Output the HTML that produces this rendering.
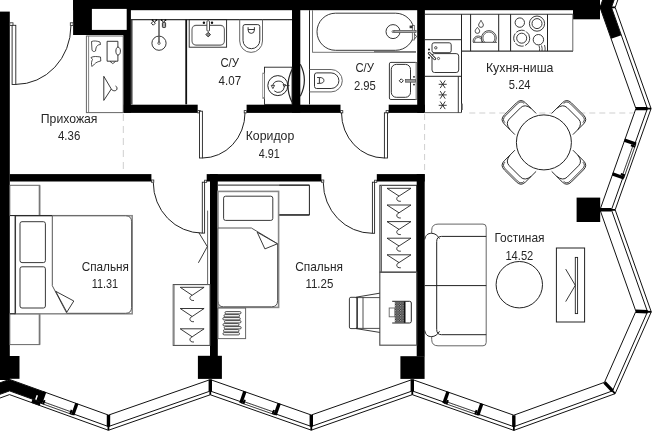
<!DOCTYPE html>
<html><head><meta charset="utf-8"><style>
html,body{margin:0;padding:0;background:#fff;width:652px;height:431px;overflow:hidden}
svg{display:block}
.tx{will-change:transform}
text{font-family:"Liberation Sans",sans-serif;font-size:12.6px;fill:#262626}
</style></head><body>
<svg width="652" height="431" viewBox="0 0 652 431">
<polygon points="-89.5,415.1 9.5,379.4 9.5,390.88 -85.84,425.26" fill="#000" />
<polygon points="9.5,379.4 44.6,392.06 40.94,402.22 5.84,389.56" fill="#000" />
<polygon points="32.64,398.69 41.11,401.75 39.65,405.79 31.18,402.74" fill="#000" />
<polygon points="36.62,395.03 38.03,395.54 36.44,399.96 35.03,399.45" fill="#fff" />
<polygon points="611.14,38.8 600,7.4 610.18,3.79 621.32,35.19" fill="#000" />
<polygon points="600,7.4 635.9,-93.8 646.08,-90.19 611.46,7.4" fill="#000" />
<polyline points="-89.5,415.1 9.5,379.4 108.5,415.1 210.3,379.6 311.3,415 412.3,379.5 513.8,415.2 604.5,382.3 635.9,311.3 600,209.8 635.9,108.6 600,7.4 635.9,-93.8" fill="none" stroke="#111" stroke-width="1" />
<polyline points="-85.84,425.26 9.5,390.88 108.44,426.56 210.29,391.04 311.31,426.45 412.3,390.95 513.86,426.67 612.51,390.88 647.51,311.74 611.46,209.81 647.36,108.6 611.46,7.4 646.08,-90.19" fill="none" stroke="#111" stroke-width="1" />
<polyline points="-84.65,428.55 9.5,394.6 108.42,430.27 210.29,394.75 311.31,430.16 412.3,394.66 513.87,430.38 615.11,393.66 651.28,311.89 615.17,209.81 651.07,108.6 615.17,7.4 649.38,-89.02" fill="none" stroke="#111" stroke-width="1" />
<polygon points="106.8,415.09 106.74,426.55 107.54,426.55 107.52,430.27 109.32,430.28 109.34,426.56 110.14,426.57 110.2,415.11" fill="#000" />
<polygon points="208.6,379.6 208.59,391.04 209.39,391.04 209.39,394.75 211.19,394.75 211.19,391.04 211.99,391.04 212,379.6" fill="#000" />
<polygon points="309.6,415 309.61,426.45 310.41,426.45 310.41,430.16 312.21,430.15 312.21,426.45 313.01,426.45 313,415" fill="#000" />
<polygon points="410.6,379.5 410.6,390.95 411.4,390.95 411.4,394.66 413.2,394.66 413.2,390.95 414,390.95 414,379.5" fill="#000" />
<polygon points="512.1,415.21 512.16,426.68 512.96,426.67 512.97,430.39 514.77,430.38 514.76,426.66 515.56,426.66 515.5,415.19" fill="#000" />
<polygon points="603.26,383.46 611.27,392.04 611.86,391.5 614.45,394.28 615.77,393.05 613.17,390.27 613.76,389.72 605.74,381.14" fill="#000" />
<polygon points="635.84,313 647.45,313.44 647.48,312.64 651.24,312.79 651.31,310.99 647.55,310.84 647.58,310.05 635.96,309.6" fill="#000" />
<polygon points="600,211.5 611.46,211.51 611.46,210.71 615.17,210.71 615.17,208.91 611.46,208.91 611.46,208.11 600,208.1" fill="#000" />
<polygon points="635.9,110.3 647.36,110.3 647.36,109.5 651.07,109.5 651.07,107.7 647.36,107.7 647.36,106.9 635.9,106.9" fill="#000" />
<polygon points="600,9.1 611.46,9.1 611.46,8.3 615.17,8.3 615.17,6.5 611.46,6.5 611.46,5.7 600,5.7" fill="#000" />
<line x1="40.94" y1="402.22" x2="73.14" y2="413.83" stroke="#fff" stroke-width="1.6" />
<line x1="41.34" y1="401.09" x2="73.54" y2="412.7" stroke="#111" stroke-width="0.8" />
<line x1="40.6" y1="403.16" x2="72.8" y2="414.77" stroke="#111" stroke-width="0.8" />
<polygon points="43.1,391.2 46.3,392.35 42.13,403.92 38.93,402.77" fill="#000" />
<polygon points="43.62,399.78 45.5,400.46 44.01,404.6 42.13,403.92" fill="#000" />
<polygon points="75.3,402.81 78.5,403.96 74.33,415.53 71.13,414.38" fill="#000" />
<polygon points="72.62,410.24 70.74,409.56 69.25,413.7 71.13,414.38" fill="#000" />
<line x1="241.23" y1="401.88" x2="275.53" y2="413.91" stroke="#fff" stroke-width="1.6" />
<line x1="241.62" y1="400.75" x2="275.92" y2="412.77" stroke="#111" stroke-width="0.8" />
<line x1="240.9" y1="402.83" x2="275.2" y2="414.85" stroke="#111" stroke-width="0.8" />
<polygon points="243.29,390.85 246.5,391.97 242.44,403.58 239.23,402.45" fill="#000" />
<polygon points="243.89,399.43 245.78,400.09 244.32,404.24 242.44,403.58" fill="#000" />
<polygon points="277.59,402.87 280.8,403.99 276.74,415.6 273.53,414.48" fill="#000" />
<polygon points="274.98,410.32 273.09,409.66 271.64,413.81 273.53,414.48" fill="#000" />
<line x1="444.32" y1="402.21" x2="478.12" y2="414.1" stroke="#fff" stroke-width="1.6" />
<line x1="444.71" y1="401.08" x2="478.51" y2="412.97" stroke="#111" stroke-width="0.8" />
<line x1="443.98" y1="403.15" x2="477.78" y2="415.04" stroke="#111" stroke-width="0.8" />
<polygon points="446.4,391.17 449.6,392.3 445.52,403.91 442.31,402.78" fill="#000" />
<polygon points="446.98,399.75 448.87,400.42 447.41,404.57 445.52,403.91" fill="#000" />
<polygon points="480.2,403.06 483.4,404.19 479.32,415.79 476.11,414.67" fill="#000" />
<polygon points="477.57,410.52 475.69,409.85 474.23,414 476.11,414.67" fill="#000" />
<line x1="622.88" y1="177.61" x2="634.87" y2="143.81" stroke="#fff" stroke-width="1.6" />
<line x1="621.75" y1="177.21" x2="633.74" y2="143.41" stroke="#111" stroke-width="0.8" />
<line x1="623.82" y1="177.95" x2="635.81" y2="144.15" stroke="#111" stroke-width="0.8" />
<polygon points="611.85,175.5 612.99,172.3 624.58,176.41 623.44,179.61" fill="#000" />
<polygon points="620.43,174.94 621.1,173.05 625.25,174.52 624.58,176.41" fill="#000" />
<polygon points="623.84,141.7 624.98,138.5 636.57,142.61 635.43,145.81" fill="#000" />
<polygon points="631.28,144.34 630.62,146.23 634.76,147.7 635.43,145.81" fill="#000" />
<rect x="0" y="11.6" width="9.8" height="368.4" fill="#000" />
<rect x="0" y="356" width="19.5" height="22.8" fill="#000" />
<rect x="73.1" y="0" width="526.9" height="10.2" fill="#000" />
<rect x="73.1" y="0" width="57.8" height="35" fill="#000" />
<rect x="91.9" y="8.9" width="34.8" height="21" fill="#fff" />
<rect x="123.2" y="35" width="7.7" height="77.7" fill="#000" />
<rect x="123.2" y="104.7" width="74.5" height="8.2" fill="#000" />
<rect x="246.6" y="104.7" width="93.9" height="8.2" fill="#000" />
<rect x="388.7" y="104.7" width="36.2" height="8.2" fill="#000" />
<rect x="292" y="0" width="8.3" height="112.7" fill="#000" />
<rect x="417.2" y="0" width="7.7" height="112.9" fill="#000" />
<rect x="573" y="0" width="27" height="19.3" fill="#000" />
<rect x="9.8" y="174.1" width="141.6" height="7.4" fill="#000" />
<rect x="206.7" y="174.1" width="114.7" height="7.4" fill="#000" />
<rect x="376.8" y="174.1" width="47.9" height="7.4" fill="#000" />
<rect x="210" y="174.1" width="7.8" height="181.9" fill="#000" />
<rect x="197.9" y="355.8" width="24" height="23.1" fill="#000" />
<rect x="416.7" y="174.1" width="8" height="182.4" fill="#000" />
<rect x="400.4" y="356.2" width="24.2" height="22.7" fill="#000" />
<rect x="576.6" y="197.6" width="23.6" height="24.4" fill="#000" />
<rect x="9.8" y="22.8" width="3.2" height="2.6" fill="#fff" stroke="#222" stroke-width="0.8"/>
<rect x="70.3" y="22.8" width="2.8" height="2.6" fill="#fff" stroke="#222" stroke-width="0.8"/>
<rect x="12.1" y="25.3" width="3.7" height="59.2" fill="#fff" stroke="#222" stroke-width="0.9"/>
<path d="M 70.9 26 A 55.1 58.4 0 0 1 15.8 84.4" stroke="#222" stroke-width="1" fill="none" />
<rect x="197.7" y="110.6" width="2.6" height="2.3" fill="#fff" stroke="#222" stroke-width="0.8"/>
<rect x="244.2" y="110.6" width="2.4" height="2.3" fill="#fff" stroke="#222" stroke-width="0.8"/>
<rect x="199.5" y="111.2" width="2.9" height="46.8" fill="#fff" stroke="#222" stroke-width="0.9"/>
<path d="M 245 112.8 A 42.6 45.2 0 0 1 202.4 158" stroke="#222" stroke-width="1" fill="none" />
<rect x="340.5" y="110.6" width="2.3" height="2.3" fill="#fff" stroke="#222" stroke-width="0.8"/>
<rect x="386.1" y="110.6" width="2.6" height="2.3" fill="#fff" stroke="#222" stroke-width="0.8"/>
<rect x="384.4" y="112.8" width="3.1" height="45.2" fill="#fff" stroke="#222" stroke-width="0.9"/>
<path d="M 341.5 112.8 A 42.9 45.2 0 0 0 384.4 158" stroke="#222" stroke-width="1" fill="none" />
<rect x="151.4" y="180" width="2.4" height="2.2" fill="#fff" stroke="#222" stroke-width="0.8"/>
<rect x="204.6" y="180.2" width="2.1" height="2.1" fill="#fff" stroke="#222" stroke-width="0.8"/>
<rect x="202.3" y="182.2" width="2.3" height="50.9" fill="#fff" stroke="#222" stroke-width="0.9"/>
<path d="M 153.3 182.5 A 49 50.6 0 0 0 202.3 233.1" stroke="#222" stroke-width="1" fill="none" />
<rect x="321.4" y="180" width="2.4" height="2.2" fill="#fff" stroke="#222" stroke-width="0.8"/>
<rect x="374.6" y="180.2" width="2.2" height="2.1" fill="#fff" stroke="#222" stroke-width="0.8"/>
<rect x="372.4" y="182.2" width="2.2" height="51.1" fill="#fff" stroke="#222" stroke-width="0.9"/>
<path d="M 323.3 182.5 A 49.1 50.8 0 0 0 372.4 233.3" stroke="#222" stroke-width="1" fill="none" />
<line x1="123.3" y1="114" x2="123.3" y2="174" stroke="#cfcfcf" stroke-width="1" stroke-dasharray="7 5"/>
<line x1="424.6" y1="114" x2="424.6" y2="174" stroke="#cfcfcf" stroke-width="1" stroke-dasharray="6 4"/>
<line x1="469.3" y1="113" x2="634" y2="113" stroke="#cfcfcf" stroke-width="1" stroke-dasharray="6 4"/>
<rect x="86.4" y="36" width="36.8" height="76.6" fill="none" stroke="#666" stroke-width="1"/>
<line x1="88.6" y1="36" x2="88.6" y2="112.6" stroke="#666" stroke-width="0.8" />
<path d="M 91.5 41.5 C 94 40.5 97 41 100 42 L 100.5 44.5 C 98 44.5 96.5 46 96 48 L 95.5 51 C 94 52 92.5 51.5 92 50 Z" stroke="#222" stroke-width="0.8" fill="none" />
<path d="M 91 57.5 C 93.5 56 97 56.5 100.5 57 L 100.8 61 C 98 61.5 96 62.5 94.5 64 L 92 66.5 C 91 64 91.5 61 92.5 59.5 Z" stroke="#222" stroke-width="0.8" fill="none" />
<path d="M 117.9 47 V 41.3 H 107.1 V 61.2 H 117.9 V 55.2" stroke="#222" stroke-width="0.9" fill="none" />
<path d="M 117.9 47 C 121.3 47.5 121.3 54.7 117.9 55.2 C 115.2 54.5 115.2 47.7 117.9 47" stroke="#222" stroke-width="0.9" fill="none" />
<path d="M 110 61.4 L 112.8 63.6 L 115.6 61.4" stroke="#222" stroke-width="0.8" fill="none" />
<polyline points="111.3,89 103.8,76.3 103.8,100.4 111.3,89" fill="none" stroke="#222" stroke-width="0.9" />
<path d="M 111.3 89 C 112.5 91.5 117.5 91.5 117 88 C 116.8 86.8 116 86 115.5 86" stroke="#222" stroke-width="0.9" fill="none" />
<line x1="131" y1="19.6" x2="292" y2="19.6" stroke="#333" stroke-width="1.3" />
<line x1="131.8" y1="19.6" x2="131.8" y2="104.4" stroke="#333" stroke-width="1.4" />
<line x1="186.2" y1="19.6" x2="186.2" y2="104.4" stroke="#111" stroke-width="1.8" />
<circle cx="159" cy="43.2" r="7.1" fill="none" stroke="#222" stroke-width="0.9"/>
<line x1="159" y1="20" x2="159" y2="43" stroke="#555" stroke-width="1.5" />
<circle cx="159" cy="43.2" r="1.2" fill="#fff" stroke="#222" stroke-width="0.7"/>
<path d="M 152.5 19.9 L 154.5 22.6 L 156.4 19.9 M 161.6 19.9 L 163.5 22.6 L 165.5 19.9" stroke="#333" stroke-width="1" fill="none" />
<circle cx="152.5" cy="20" r="0.9" fill="#111"/><circle cx="156.4" cy="20" r="0.9" fill="#111"/><circle cx="161.6" cy="20" r="0.9" fill="#111"/><circle cx="165.5" cy="20" r="0.9" fill="#111"/>
<path d="M 153.3 21.2 l 2 2 l -2 2 l -2 -2 z" stroke="#222" stroke-width="1" fill="#fff" />
<rect x="162.4" y="22.4" width="3.2" height="5.1" rx="0.8" fill="#aaa" stroke="#222" stroke-width="0.9"/>
<rect x="189.2" y="19.6" width="37.4" height="27.6" fill="none" stroke="#222" stroke-width="0.9"/>
<rect x="192" y="25.4" width="32.4" height="19.7" rx="4" fill="none" stroke="#666" stroke-width="1.1"/>
<rect x="206.9" y="20.6" width="2.6" height="10.7" rx="1.3" fill="#fff" stroke="#333" stroke-width="0.9"/>
<circle cx="203.9" cy="22.7" r="1.2" fill="#111"/><circle cx="212" cy="22.7" r="1.2" fill="#111"/>
<path d="M 208.2 32.3 l 2.3 2.3 l -2.3 2.3 l -2.3 -2.3 z" stroke="#222" stroke-width="0.9" fill="#888" />
<path d="M 239.7 19.6 V 41 A 11.4 11.4 0 0 0 262.5 41 V 19.6" stroke="#666" stroke-width="1" fill="none" />
<path d="M 243 40.3 V 26.6 Q 243 24.6 245 24.6 H 257.8 Q 259.8 24.6 259.8 26.6 V 40.3 A 8.4 8.4 0 0 1 243 40.3 Z" stroke="#333" stroke-width="1" fill="none" />
<path d="M 248.1 27.2 V 30 A 3.15 3.4 0 0 0 254.4 30 V 27.2 M 248.1 29.5 H 254.4" stroke="#222" stroke-width="0.9" fill="none" />
<rect x="264.5" y="67.2" width="27.5" height="37.2" fill="none" stroke="#222" stroke-width="0.9"/>
<rect x="262.7" y="73.1" width="1.8" height="25.3" fill="none" stroke="#888" stroke-width="0.8"/>
<circle cx="277.8" cy="85.6" r="10" fill="none" stroke="#222" stroke-width="1"/>
<path d="M 272.6 86 A 6 6 0 0 1 284.2 85.2 M 284.3 87 A 6 6 0 0 1 274.2 90.8" stroke="#222" stroke-width="0.9" fill="none" />
<path d="M 271.2 85.4 L 274.6 85.4 L 272.9 88.6 Z M 283 84.6 L 285.6 84.6 L 284.3 87 Z" stroke="#222" stroke-width="0.8" fill="#fff" />
<line x1="284.5" y1="85.6" x2="289.5" y2="85.6" stroke="#222" stroke-width="0.8" />
<path d="M 292 69.5 Q 284 86 292 102.3" stroke="#222" stroke-width="1.2" fill="none" />
<path d="M 300.3 64.2 Q 308.5 80 300.3 96.2" stroke="#222" stroke-width="1.2" fill="none" />
<line x1="309.5" y1="10.2" x2="309.5" y2="104.4" stroke="#222" stroke-width="1" />
<line x1="312.5" y1="10.2" x2="312.5" y2="52.5" stroke="#666" stroke-width="0.9" />
<line x1="312.5" y1="52.3" x2="416" y2="52.3" stroke="#666" stroke-width="0.9" />
<line x1="374" y1="51.6" x2="416" y2="51.6" stroke="#777" stroke-width="1.4" />
<rect x="317" y="13.2" width="97.1" height="37.1" rx="18.5" fill="none" stroke="#222" stroke-width="0.9"/>
<circle cx="393" cy="31.6" r="7" fill="none" stroke="#222" stroke-width="0.9"/>
<circle cx="393" cy="31.6" r="1" fill="none" stroke="#222" stroke-width="0.6"/>
<rect x="394" y="30.5" width="22" height="1.9" fill="#aaa" stroke="#555" stroke-width="0.6"/>
<rect x="412.3" y="25.5" width="2" height="14.5" fill="#fff" stroke="#444" stroke-width="0.7"/>
<rect x="409.6" y="25.6" width="3" height="2.6" fill="#333" />
<path d="M 414.5 34 l 2 2.5 l -2 2.5" stroke="#333" stroke-width="0.9" fill="none" />
<rect x="394" y="30.5" width="22" height="1.9" fill="#aaa" stroke="#555" stroke-width="0.6"/>
<path d="M 309.5 69.5 H 331.1 A 11.2 11.2 0 0 1 331.1 91.9 H 309.5" stroke="#666" stroke-width="1" fill="none" />
<path d="M 331.1 72.9 H 316.6 Q 314.5 72.9 314.5 75 V 86.4 Q 314.5 88.5 316.6 88.5 H 331.1 A 7.8 7.8 0 0 0 331.1 72.9 Z" stroke="#333" stroke-width="1" fill="none" />
<path d="M 317.1 77.5 H 319.4 V 83.4 H 317.1 M 319.4 77.5 A 4.5 2.95 0 0 1 319.4 83.4" stroke="#222" stroke-width="0.9" fill="none" />
<rect x="389.4" y="62.4" width="27.8" height="37.1" rx="1.5" fill="none" stroke="#222" stroke-width="0.9"/>
<line x1="416.2" y1="63" x2="416.2" y2="99" stroke="#999" stroke-width="1.4" />
<rect x="391.3" y="64.4" width="19.2" height="32.9" rx="5" fill="none" stroke="#333" stroke-width="1"/>
<rect x="405.4" y="79.4" width="10.2" height="2.8" fill="#999" stroke="#444" stroke-width="0.6"/>
<path d="M 399.3 80.8 l 2 -2 l 2 2 l -2 2 z" stroke="#222" stroke-width="1" fill="none" />
<circle cx="414" cy="76.8" r="0.9" fill="#111"/><circle cx="414" cy="84.6" r="0.9" fill="#111"/>
<line x1="424.4" y1="14.2" x2="573" y2="14.2" stroke="#333" stroke-width="1.1" />
<line x1="461.5" y1="39.7" x2="424.4" y2="39.7" stroke="#222" stroke-width="1" />
<line x1="424.4" y1="76.3" x2="461.3" y2="76.3" stroke="#222" stroke-width="1" />
<line x1="424.4" y1="112.6" x2="461.3" y2="112.6" stroke="#666" stroke-width="1" />
<line x1="461.5" y1="14.2" x2="461.5" y2="112.6" stroke="#222" stroke-width="1" />
<line x1="458.3" y1="76.3" x2="458.3" y2="112.6" stroke="#222" stroke-width="0.9" />
<line x1="461.5" y1="51.1" x2="573" y2="51.1" stroke="#333" stroke-width="1.3" />
<line x1="470.6" y1="14.2" x2="470.6" y2="51.1" stroke="#222" stroke-width="1" />
<line x1="498.7" y1="14.2" x2="498.7" y2="51.1" stroke="#222" stroke-width="1" />
<line x1="510.6" y1="14.2" x2="510.6" y2="51.1" stroke="#222" stroke-width="1" />
<line x1="547.5" y1="14.2" x2="547.5" y2="51.1" stroke="#222" stroke-width="1" />
<line x1="572.8" y1="14.2" x2="572.8" y2="51.1" stroke="#666" stroke-width="1" />
<rect x="432" y="42.8" width="19.2" height="9.9" rx="2" fill="none" stroke="#222" stroke-width="0.9"/>
<rect x="432" y="53.6" width="26.7" height="18.9" rx="2.5" fill="none" stroke="#222" stroke-width="0.9"/>
<circle cx="435.8" cy="47.8" r="1.2" fill="#fff" stroke="#222" stroke-width="0.8"/>
<path d="M 429.2 53.2 L 434.8 58.8" stroke="#222" stroke-width="2.8" fill="none" stroke-linecap="round"/>
<path d="M 429.2 53.2 L 434.8 58.8" stroke="#fff" stroke-width="1.1" fill="none" stroke-linecap="round"/>
<circle cx="438.5" cy="58.5" r="1.1" fill="none" stroke="#222" stroke-width="0.7"/>
<circle cx="429" cy="49.5" r="1" fill="#111"/><circle cx="429" cy="57.7" r="1" fill="#111"/>
<path d="M 438.7 84.3 H 446.7 M 440.2 80.5 L 445.2 88.1 M 445.2 80.5 L 440.2 88.1" stroke="#222" stroke-width="0.9" fill="none" />
<path d="M 438.7 94.9 H 446.7 M 440.2 91.10000000000001 L 445.2 98.7 M 445.2 91.10000000000001 L 440.2 98.7" stroke="#222" stroke-width="0.9" fill="none" />
<path d="M 438.7 105.3 H 446.7 M 440.2 101.5 L 445.2 109.1 M 445.2 101.5 L 440.2 109.1" stroke="#222" stroke-width="0.9" fill="none" />
<rect x="461.6" y="103.6" width="1.4" height="6.4" fill="#888" />
<path d="M 481 20.3 C 480.2 22.12 478.6 23.8 478.6 25 A 2.4 2.4 0 0 0 483.4 25 C 483.4 23.8 481.8 22.12 481 20.3 Z" stroke="#222" stroke-width="0.8" fill="none" />
<path d="M 477.4 27.4 C 476.59999999999997 28.340000000000003 475.09999999999997 29.950000000000003 475.09999999999997 31.1 A 2.3 2.3 0 0 0 479.7 31.1 C 479.7 29.950000000000003 478.2 28.340000000000003 477.4 27.4 Z" stroke="#222" stroke-width="0.8" fill="none" />
<clipPath id="dwc"><rect x="470" y="20" width="30" height="22.3"/></clipPath>
<g clip-path="url(#dwc)"><circle cx="478.2" cy="41.1" r="5.1" fill="none" stroke="#222" stroke-width="0.8"/><circle cx="478.2" cy="41.1" r="3.7" fill="none" stroke="#222" stroke-width="0.7"/><circle cx="488.9" cy="38" r="7.4" fill="#fff" stroke="#222" stroke-width="0.8"/><circle cx="488.9" cy="38" r="6" fill="none" stroke="#222" stroke-width="0.7"/></g>
<line x1="473" y1="42.3" x2="497" y2="42.3" stroke="#222" stroke-width="0.8" />
<circle cx="519.8" cy="22.6" r="4.7" fill="none" stroke="#222" stroke-width="0.9"/>
<circle cx="537" cy="23.6" r="7.6" fill="none" stroke="#222" stroke-width="0.9"/>
<circle cx="537" cy="23.6" r="5" fill="none" stroke="#222" stroke-width="0.9"/>
<circle cx="521.7" cy="38.2" r="5" fill="none" stroke="#222" stroke-width="0.9"/>
<circle cx="538.4" cy="39.7" r="5.2" fill="none" stroke="#222" stroke-width="0.9"/>
<circle cx="521.7" cy="38.2" r="8" fill="none" stroke="#222" stroke-width="0.9" stroke-dasharray="9 1.5"/>
<path d="M 539 45.5 q 1 3 0.5 5.5 M 541.5 45.5 q 1 3 0.5 5.5 M 544.5 45 q 1 3 0.5 6" stroke="#222" stroke-width="0.8" fill="none" />
<g transform="translate(543.9 142.4) rotate(-135)"><path d="M 26 -15 L 41 -15 Q 47.4 -15 47.4 -8.5 L 47.4 8.5 Q 47.4 15 41 15 L 26 15 Z" fill="#fff" stroke="none"/><path d="M 26 -15 L 41 -15 Q 47.4 -15 47.4 -8.5 L 47.4 8.5 Q 47.4 15 41 15 L 26 15" fill="none" stroke="#222" stroke-width="0.9"/><path d="M 41.5 -13.6 Q 46 -13.6 46 -8.5 L 46 8.5 Q 46 13.6 41.5 13.6" fill="none" stroke="#222" stroke-width="0.8"/><path d="M 33 -15 Q 41 -14 41 -8 L 41 8 Q 41 14 33 15" fill="none" stroke="#222" stroke-width="0.9"/></g>
<g transform="translate(543.9 142.4) rotate(-45)"><path d="M 26 -15 L 41 -15 Q 47.4 -15 47.4 -8.5 L 47.4 8.5 Q 47.4 15 41 15 L 26 15 Z" fill="#fff" stroke="none"/><path d="M 26 -15 L 41 -15 Q 47.4 -15 47.4 -8.5 L 47.4 8.5 Q 47.4 15 41 15 L 26 15" fill="none" stroke="#222" stroke-width="0.9"/><path d="M 41.5 -13.6 Q 46 -13.6 46 -8.5 L 46 8.5 Q 46 13.6 41.5 13.6" fill="none" stroke="#222" stroke-width="0.8"/><path d="M 33 -15 Q 41 -14 41 -8 L 41 8 Q 41 14 33 15" fill="none" stroke="#222" stroke-width="0.9"/></g>
<g transform="translate(543.9 142.4) rotate(45)"><path d="M 26 -15 L 41 -15 Q 47.4 -15 47.4 -8.5 L 47.4 8.5 Q 47.4 15 41 15 L 26 15 Z" fill="#fff" stroke="none"/><path d="M 26 -15 L 41 -15 Q 47.4 -15 47.4 -8.5 L 47.4 8.5 Q 47.4 15 41 15 L 26 15" fill="none" stroke="#222" stroke-width="0.9"/><path d="M 41.5 -13.6 Q 46 -13.6 46 -8.5 L 46 8.5 Q 46 13.6 41.5 13.6" fill="none" stroke="#222" stroke-width="0.8"/><path d="M 33 -15 Q 41 -14 41 -8 L 41 8 Q 41 14 33 15" fill="none" stroke="#222" stroke-width="0.9"/></g>
<g transform="translate(543.9 142.4) rotate(135)"><path d="M 26 -15 L 41 -15 Q 47.4 -15 47.4 -8.5 L 47.4 8.5 Q 47.4 15 41 15 L 26 15 Z" fill="#fff" stroke="none"/><path d="M 26 -15 L 41 -15 Q 47.4 -15 47.4 -8.5 L 47.4 8.5 Q 47.4 15 41 15 L 26 15" fill="none" stroke="#222" stroke-width="0.9"/><path d="M 41.5 -13.6 Q 46 -13.6 46 -8.5 L 46 8.5 Q 46 13.6 41.5 13.6" fill="none" stroke="#222" stroke-width="0.8"/><path d="M 33 -15 Q 41 -14 41 -8 L 41 8 Q 41 14 33 15" fill="none" stroke="#222" stroke-width="0.9"/></g>
<circle cx="543.9" cy="142.4" r="27.5" fill="#fff" stroke="#222" stroke-width="1"/>
<rect x="9.8" y="185.3" width="29.9" height="30.2" fill="none" stroke="#666" stroke-width="1"/>
<line x1="39.5" y1="185.3" x2="39.5" y2="215.5" stroke="#777" stroke-width="1.6" />
<rect x="9.8" y="313.8" width="29.9" height="30.8" fill="none" stroke="#666" stroke-width="1"/>
<line x1="39.5" y1="313.8" x2="39.5" y2="344.6" stroke="#777" stroke-width="1.6" />
<rect x="15.3" y="215.7" width="116.9" height="98.1" fill="none" stroke="#888" stroke-width="1.5"/>
<line x1="9.8" y1="215.6" x2="52.3" y2="215.6" stroke="#222" stroke-width="1" />
<line x1="9.8" y1="313.8" x2="15.3" y2="313.8" stroke="#222" stroke-width="1" />
<line x1="15.3" y1="215.6" x2="15.3" y2="313.8" stroke="#222" stroke-width="1" />
<rect x="20" y="221.7" width="25.4" height="40.9" rx="2" fill="none" stroke="#222" stroke-width="0.9"/>
<rect x="20" y="266.8" width="25.4" height="41.2" rx="2" fill="none" stroke="#222" stroke-width="0.9"/>
<path d="M 52.3 285.7 V 215.8 H 125.6 Q 131.6 215.8 131.6 221.8 V 307.3 Q 131.6 313.3 125.6 313.3 H 66.8 Z" stroke="#555" stroke-width="1" fill="#fff" />
<polygon points="55.7,291.3 73.8,301 66.8,312.2" fill="#fff" stroke="#222" stroke-width="0.9"/>
<rect x="173.2" y="284.6" width="36.8" height="60.8" fill="none" stroke="#444" stroke-width="1"/>
<line x1="174.2" y1="285" x2="174.2" y2="345" stroke="#999" stroke-width="1.2" />
<line x1="207.6" y1="210.6" x2="207.6" y2="284.6" stroke="#666" stroke-width="1" />
<polyline points="198.8,232.6 207.3,246.6 198.4,262.8" fill="none" stroke="#222" stroke-width="0.9" />
<polyline points="192.15,295.3 180.2,287.3 204.1,287.3 192.15,295.3" fill="none" stroke="#222" stroke-width="0.9" />
<path d="M 192.14999999999998 295.3 C 189.14999999999998 296.3 188.64999999999998 300.8 193.95 300.5" stroke="#222" stroke-width="0.9" fill="none" />
<polyline points="192.15,316.5 180.2,308.5 204.1,308.5 192.15,316.5" fill="none" stroke="#222" stroke-width="0.9" />
<path d="M 192.14999999999998 316.5 C 189.14999999999998 317.5 188.64999999999998 322.0 193.95 321.7" stroke="#222" stroke-width="0.9" fill="none" />
<polyline points="192.15,336.8 180.2,328.8 204.1,328.8 192.15,336.8" fill="none" stroke="#222" stroke-width="0.9" />
<path d="M 192.14999999999998 336.8 C 189.14999999999998 337.8 188.64999999999998 342.3 193.95 342.0" stroke="#222" stroke-width="0.9" fill="none" />
<line x1="218" y1="185.1" x2="309.5" y2="185.1" stroke="#222" stroke-width="1" />
<rect x="218" y="191.4" width="60.6" height="116" fill="none" stroke="#888" stroke-width="1.6"/>
<rect x="223.6" y="196.2" width="49.2" height="24.2" rx="2" fill="none" stroke="#222" stroke-width="0.9"/>
<path d="M 218 228 H 251.4 L 277.6 243.8 V 300.8 Q 277.6 306.8 271.6 306.8 H 223.5 Q 218 306.8 218 301 Z" stroke="#555" stroke-width="1" fill="#fff" />
<polygon points="257.2,232.2 277.4,243.8 264.9,248.9" fill="#fff" stroke="#222" stroke-width="0.9"/>
<path d="M 279.3 185.2 H 309.4 V 215 H 279.3" stroke="#222" stroke-width="1" fill="none" />
<line x1="279.3" y1="214.9" x2="309.4" y2="214.9" stroke="#333" stroke-width="1.4" />
<rect x="218" y="308" width="27.6" height="30.6" fill="none" stroke="#666" stroke-width="1"/>
<rect x="225.00" y="311.60" width="16" height="2.3" rx="1.1" fill="#fff" stroke="#222" stroke-width="0.8"/>
<rect x="224.00" y="314.60" width="15.5" height="2.3" rx="1.1" fill="#fff" stroke="#222" stroke-width="0.8"/>
<rect x="222.80" y="317.60" width="17.5" height="2.3" rx="1.1" fill="#fff" stroke="#222" stroke-width="0.8"/>
<rect x="224.50" y="320.60" width="16.5" height="2.3" rx="1.1" fill="#fff" stroke="#222" stroke-width="0.8"/>
<rect x="223.00" y="323.60" width="16" height="2.3" rx="1.1" fill="#fff" stroke="#222" stroke-width="0.8"/>
<rect x="224.20" y="326.60" width="17" height="2.3" rx="1.1" fill="#fff" stroke="#222" stroke-width="0.8"/>
<rect x="223.50" y="329.60" width="15.5" height="2.3" rx="1.1" fill="#fff" stroke="#222" stroke-width="0.8"/>
<rect x="223.00" y="332.60" width="16.5" height="2.3" rx="1.1" fill="#fff" stroke="#222" stroke-width="0.8"/>
<rect x="379.9" y="185.3" width="36.8" height="86.9" fill="none" stroke="#222" stroke-width="1"/>
<line x1="381.4" y1="185.3" x2="381.4" y2="272.2" stroke="#666" stroke-width="1.2" />
<polyline points="399,196.1 387,188.3 411,188.3 399,196.1" fill="none" stroke="#222" stroke-width="0.9" />
<path d="M 399.0 196.10000000000002 C 396.0 197.10000000000002 395.5 201.60000000000002 400.8 201.3" stroke="#222" stroke-width="0.9" fill="none" />
<polyline points="399,212.8 387,205 411,205 399,212.8" fill="none" stroke="#222" stroke-width="0.9" />
<path d="M 399.0 212.8 C 396.0 213.8 395.5 218.3 400.8 218.0" stroke="#222" stroke-width="0.9" fill="none" />
<polyline points="399,229.4 387,221.6 411,221.6 399,229.4" fill="none" stroke="#222" stroke-width="0.9" />
<path d="M 399.0 229.4 C 396.0 230.4 395.5 234.9 400.8 234.6" stroke="#222" stroke-width="0.9" fill="none" />
<polyline points="399,246 387,238.2 411,238.2 399,246" fill="none" stroke="#222" stroke-width="0.9" />
<path d="M 399.0 246.0 C 396.0 247.0 395.5 251.5 400.8 251.2" stroke="#222" stroke-width="0.9" fill="none" />
<polyline points="399,262.6 387,254.8 411,254.8 399,262.6" fill="none" stroke="#222" stroke-width="0.9" />
<path d="M 399.0 262.6 C 396.0 263.6 395.5 268.1 400.8 267.8" stroke="#222" stroke-width="0.9" fill="none" />
<rect x="379.8" y="272.2" width="36.9" height="73" fill="none" stroke="#555" stroke-width="1.2"/>
<path d="M 379.7 293.2 L 356 297.2 M 379.7 332.4 L 356 328.6" stroke="#222" stroke-width="0.9" fill="none" />
<rect x="349.4" y="297.3" width="7.4" height="31.3" rx="1.5" fill="none" stroke="#222" stroke-width="0.9"/>
<line x1="357.5" y1="297.3" x2="357.5" y2="328.6" stroke="#222" stroke-width="0.8" />
<path d="M 355.5 297.6 H 379.7 M 355.5 328.4 H 379.7 M 363 297.6 V 328.4" stroke="#222" stroke-width="0.8" fill="none" />
<pattern id="kb" x="0" y="0" width="2.5" height="2.5" patternUnits="userSpaceOnUse"><rect width="2.5" height="2.5" fill="#333"/><rect x="0" y="0" width="1.25" height="1.25" fill="#aaa"/><rect x="1.25" y="1.25" width="1.25" height="1.25" fill="#888"/></pattern>
<rect x="394.8" y="301.8" width="9.8" height="20.8" fill="url(#kb)" />
<path d="M 392.2 301.3 H 409.5 Q 411.3 301.3 411.3 303 V 321.3 Q 411.3 323 409.5 323 H 392.2" stroke="#222" stroke-width="1" fill="none" />
<line x1="404.7" y1="301.5" x2="404.7" y2="322.8" stroke="#111" stroke-width="1.6" />
<rect x="389.2" y="308" width="5.6" height="8.8" fill="#fff" stroke="#666" stroke-width="0.9"/>
<path d="M 431.7 233.3 V 230.4 Q 431.7 224.1 438 224.1 H 483 Q 486.2 224.1 486.2 227.3 V 342.5 Q 486.2 345.8 483 345.8 H 438 Q 431.7 345.8 431.7 339.5 V 336.6" stroke="#666" stroke-width="1" fill="none" />
<path d="M 424.7 239.5 C 425.5 235 428 233.3 431.5 233.3 C 435 233.3 437.5 235.3 439.5 238.6" stroke="#222" stroke-width="1" fill="none" />
<path d="M 424.7 330.4 C 425.5 335 428 336.6 431.5 336.6 C 435 336.6 437.5 334.6 439.5 331.3" stroke="#222" stroke-width="1" fill="none" />
<path d="M 486.2 236.4 H 441.5 Q 436.7 236.4 436.7 241.5 V 329.5 Q 436.7 334.7 441.5 334.7 H 486.2" stroke="#222" stroke-width="1" fill="none" />
<line x1="424.7" y1="285.6" x2="486.2" y2="285.6" stroke="#222" stroke-width="1" />
<circle cx="519.3" cy="284.7" r="23.2" fill="none" stroke="#222" stroke-width="1"/>
<rect x="556.4" y="248" width="28.2" height="74" fill="none" stroke="#222" stroke-width="1"/>
<rect x="575.3" y="257.4" width="2.3" height="56.2" fill="none" stroke="#222" stroke-width="0.9"/>
<polyline points="565.7,269.1 575.3,285.3 565.7,301.6" fill="none" stroke="#222" stroke-width="0.9" />
<g class="tx"><text x="40.8" y="122.6" textLength="56.7" lengthAdjust="spacingAndGlyphs">Прихожая</text>
<text x="58" y="139.5" textLength="22.3" lengthAdjust="spacingAndGlyphs">4.36</text>
<text x="220.4" y="67.1" textLength="18.6" lengthAdjust="spacingAndGlyphs">С/У</text>
<text x="218.6" y="84.6" textLength="22.5" lengthAdjust="spacingAndGlyphs">4.07</text>
<text x="245.7" y="139.7" textLength="48.6" lengthAdjust="spacingAndGlyphs">Коридор</text>
<text x="258.8" y="157.5" textLength="20.9" lengthAdjust="spacingAndGlyphs">4.91</text>
<text x="355.4" y="72.1" textLength="18.6" lengthAdjust="spacingAndGlyphs">С/У</text>
<text x="353.9" y="89.8" textLength="21.9" lengthAdjust="spacingAndGlyphs">2.95</text>
<text x="485.9" y="72" textLength="67.5" lengthAdjust="spacingAndGlyphs">Кухня-ниша</text>
<text x="508.8" y="89.1" textLength="21.8" lengthAdjust="spacingAndGlyphs">5.24</text>
<text x="81.7" y="270.7" textLength="47.2" lengthAdjust="spacingAndGlyphs">Спальня</text>
<text x="91.7" y="288.4" textLength="26.5" lengthAdjust="spacingAndGlyphs">11.31</text>
<text x="295.2" y="270.8" textLength="47.8" lengthAdjust="spacingAndGlyphs">Спальня</text>
<text x="305.4" y="288.2" textLength="27.9" lengthAdjust="spacingAndGlyphs">11.25</text>
<text x="494.4" y="242.4" textLength="50.2" lengthAdjust="spacingAndGlyphs">Гостиная</text>
<text x="505.4" y="259.7" textLength="27.9" lengthAdjust="spacingAndGlyphs">14.52</text></g>
</svg>
</body></html>
